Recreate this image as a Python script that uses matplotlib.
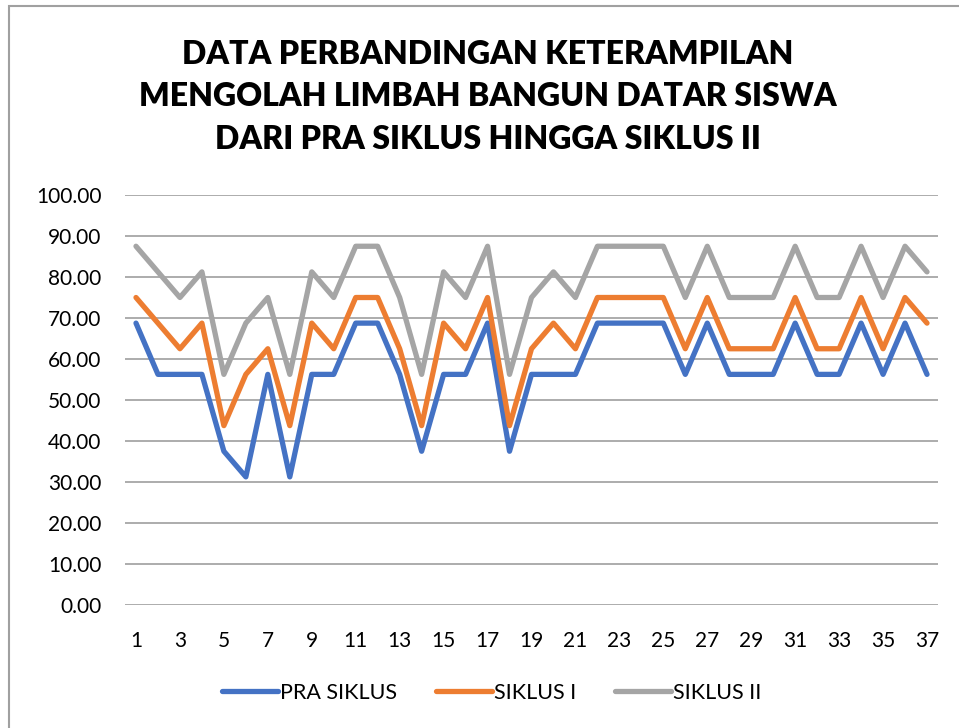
import matplotlib
matplotlib.use("Agg")
import matplotlib.pyplot as plt
from matplotlib.patches import Rectangle

plt.rcParams['font.family'] = ['Lato', 'DejaVu Sans']

students = list(range(1, 38))
pra_siklus = [68.75, 56.25, 56.25, 56.25, 37.5, 31.25, 56.25, 31.25, 56.25, 56.25,
              68.75, 68.75, 56.25, 37.5, 56.25, 56.25, 68.75, 37.5, 56.25, 56.25,
              56.25, 68.75, 68.75, 68.75, 68.75, 56.25, 68.75, 56.25, 56.25, 56.25,
              68.75, 56.25, 56.25, 68.75, 56.25, 68.75, 56.25]
siklus_1 = [75, 68.75, 62.5, 68.75, 43.75, 56.25, 62.5, 43.75, 68.75, 62.5,
            75, 75, 62.5, 43.75, 68.75, 62.5, 75, 43.75, 62.5, 68.75,
            62.5, 75, 75, 75, 75, 62.5, 75, 62.5, 62.5, 62.5,
            75, 62.5, 62.5, 75, 62.5, 75, 68.75]
siklus_2 = [87.5, 81.25, 75, 81.25, 56.25, 68.75, 75, 56.25, 81.25, 75,
            87.5, 87.5, 75, 56.25, 81.25, 75, 87.5, 56.25, 75, 81.25,
            75, 87.5, 87.5, 87.5, 87.5, 75, 87.5, 75, 75, 75,
            87.5, 75, 75, 87.5, 75, 87.5, 81.25]
series_names = ["PRA SIKLUS", "SIKLUS I", "SIKLUS II"]
colors = ["#4472C4", "#ED7D31", "#A5A5A5"]

W, H = 959, 728
fig = plt.figure(figsize=(W / 100, H / 100), dpi=100)
ax = fig.add_axes([125 / W, 1 - 605 / H, (938 - 125) / W, (605 - 195) / H])

for vals, name, c in zip([pra_siklus, siklus_1, siklus_2], series_names, colors):
    ax.plot(students, vals, color=c, lw=3.8, label=name,
            solid_joinstyle='round', solid_capstyle='round', zorder=3)

ax.set_xlim(0.5, 37.5)
ax.set_ylim(0, 100)
ax.set_yticks(range(0, 101, 10))
ax.set_yticklabels([f"{v:.2f}" for v in range(0, 101, 10)], fontsize=15)
ax.set_xticks(students[::2])
ax.set_xticklabels([str(s) for s in students[::2]], fontsize=15)
ax.tick_params(axis='y', length=0, pad=17)
ax.tick_params(axis='x', length=0, pad=19)
ax.grid(axis='y', color='#a6a6a6', lw=1.3, zorder=0)
for s in ax.spines.values():
    s.set_visible(False)

# three-line bold title
fig.text(488 / W, 1 - 97 / H,
         "DATA PERBANDINGAN KETERAMPILAN\nMENGOLAH LIMBAH BANGUN DATAR SISWA\nDARI PRA SIKLUS HINGGA SIKLUS II",
         ha='center', va='center', fontsize=23, fontweight='heavy', linespacing=1.55)

fig.legend(loc='center', bbox_to_anchor=(492 / W, 1 - 693 / H), ncol=3, frameon=False,
           fontsize=15.5, handlelength=2.6, columnspacing=1.8, handletextpad=0.1)

# chart-area border, cut off on the right and bottom like the screenshot
fig.patches.append(Rectangle((9 / W, -0.1), 1.2, 1.1 - 6 / H, transform=fig.transFigure,
                             fill=False, edgecolor='#a0a0a0', lw=1.5))

fig.savefig("out.png", dpi=100)
